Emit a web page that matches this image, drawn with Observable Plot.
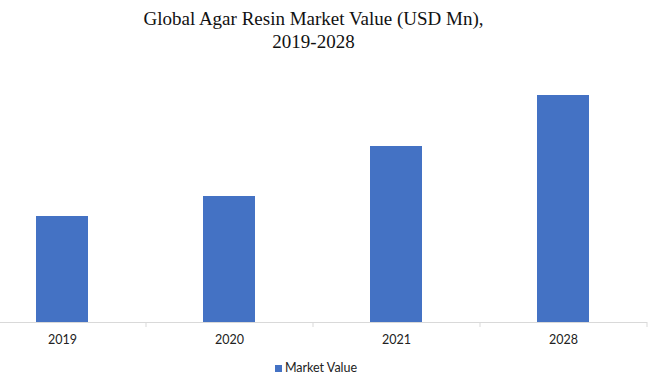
<!DOCTYPE html>
<html>
<head>
<meta charset="utf-8">
<script src="https://cdn.jsdelivr.net/npm/d3@7"></script>
<script src="https://cdn.jsdelivr.net/npm/@observablehq/plot@0.6"></script>
<style>
  html, body { margin: 0; padding: 0; background: #fff; }
  #wrap { position: relative; width: 669px; height: 384px; overflow: hidden; }
  #title { position: absolute; left: 0; top: 7px; width: 627px; text-align: center;
    font-family: "Liberation Serif", "DejaVu Serif", serif; font-size: 19px; line-height: 23px; color: #111; }
  #chart { position: absolute; left: 0; top: 0; }
  #legend { position: absolute; left: 0; top: 360px; width: 632px; text-align: center;
    font-family: "Lato", "Open Sans", sans-serif; font-size: 12.5px; color: #222; }
  #legend .sw { display: inline-block; width: 7px; height: 7px; background: #4472c4; margin-right: 3px; vertical-align: 0px; }
</style>
</head>
<body>
<div id="wrap">
  <div id="title">Global Agar Resin Market Value (USD Mn),<br>2019-2028</div>
  <div id="chart"></div>
  <div id="legend"><span class="sw"></span>Market Value</div>
</div>
<script>
const years = ["2019", "2020", "2021", "2028"];
const marketValue = [106, 126, 176, 227];
const seriesName = "Market Value";
const barColor = "#4472c4";

const data = years.map((y, i) => ({year: y, value: marketValue[i]}));

const chart = Plot.plot({
  width: 669,
  height: 355,
  marginTop: 72,
  marginBottom: 33,
  marginLeft: 0,
  marginRight: 22,
  style: {fontFamily: "Lato, 'Open Sans', sans-serif", fontSize: "12.5px", color: "#222", background: "transparent"},
  x: {domain: years, range: [-21.5, 646.5], paddingInner: 0.69, paddingOuter: 0.345, align: 0.5, label: null},
  y: {domain: [0, 250], axis: null},
  marks: [
    Plot.barY(data, {x: "year", y: "value", fill: barColor}),
    Plot.ruleY([0], {stroke: "#d9d9d9", strokeWidth: 1}),
    Plot.ruleX(years, {x: d => d, dx: 83.5, y1: 0, y2: 0, insetBottom: -5, stroke: "#d9d9d9"}),
    Plot.axisX({tickSize: 0, tickPadding: 13, label: null, fontSize: 12.5})
  ]
});
document.getElementById("chart").appendChild(chart);
</script>
</body>
</html>
